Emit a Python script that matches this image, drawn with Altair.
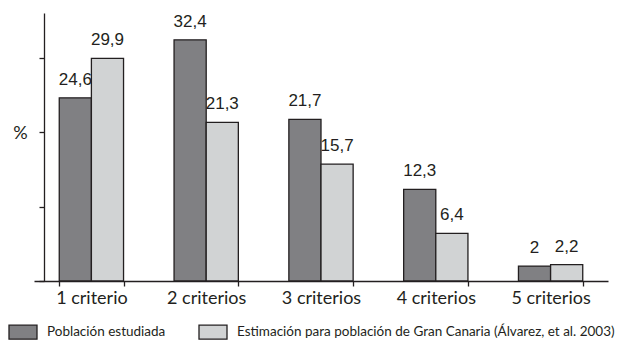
import altair as alt
import pandas as pd

categories = ["1 criterio", "2 criterios", "3 criterios", "4 criterios", "5 criterios"]
series = ["Población estudiada",
          "Estimación para población de Gran Canaria (Álvarez, et al. 2003)"]
estudiada = [24.6, 32.4, 21.7, 12.3, 2]
gran_canaria = [29.9, 21.3, 15.7, 6.4, 2.2]
colors = ["#808083", "#d1d3d4"]

rows = []
for c, a, b in zip(categories, estudiada, gran_canaria):
    for s, v in zip(series, [a, b]):
        rows.append({"cat": c, "serie": s, "valor": v,
                     "etiqueta": f"{v:g}".replace(".", ",")})
df = pd.DataFrame(rows)

base = alt.Chart(df).encode(
    x=alt.X("cat:N", sort=categories, title=None,
            scale=alt.Scale(paddingInner=0.44, paddingOuter=0.22),
            axis=alt.Axis(labelAngle=0, labelFont="Lato", labelFontSize=18,
                          labelColor="#231f20", labelPadding=3, tickSize=5,
                          tickBand="extent", tickColor="#231f20", tickWidth=1.3,
                          domainColor="#231f20", domainWidth=1.3, grid=False)),
    xOffset=alt.XOffset("serie:N", sort=series),
    y=alt.Y("valor:Q", scale=alt.Scale(domain=[0, 36], nice=False),
            title="%",
            axis=alt.Axis(values=[0, 10, 20, 30], labels=False, tickSize=5,
                          tickColor="#231f20", tickWidth=1.3, domainColor="#231f20",
                          domainWidth=1.3, grid=False, offset=-10,
                          titleAngle=0, titleX=-24, titleY=120, titleAlign="center",
                          titleBaseline="middle", titleFont="Lato",
                          titleFontSize=18, titleFontWeight="normal",
                          titleColor="#231f20")),
)

bars = base.mark_bar(stroke="#231f20", strokeWidth=1.3).encode(
    color=alt.Color("serie:N", sort=series,
                    scale=alt.Scale(domain=series, range=colors),
                    legend=alt.Legend(title=None, orient="none", direction="horizontal",
                                      legendX=-26, legendY=304,
                                      symbolType="M-1,-0.5H1V0.5H-1Z", symbolSize=784,
                                      symbolStrokeColor="#231f20", symbolStrokeWidth=1.3,
                                      symbolOpacity=1,
                                      labelFont="Lato", labelFontSize=13.5,
                                      labelColor="#231f20", labelOffset=9,
                                      labelLimit=1000, columnPadding=30, padding=0))
)

labels = base.mark_text(baseline="bottom", dy=-9, font="Liberation Sans",
                        fontSize=17, color="#231f20").encode(text="etiqueta:N")

chart = alt.layer(bars, labels).properties(
    width=574, height=268,
    autosize=alt.AutoSizeParams(type="none"),
    padding={"left": 34, "top": 13, "right": 13, "bottom": 59},
    background="white",
).configure_view(stroke=None)

chart.save("out.html", embed_options={"renderer": "svg", "actions": False})
